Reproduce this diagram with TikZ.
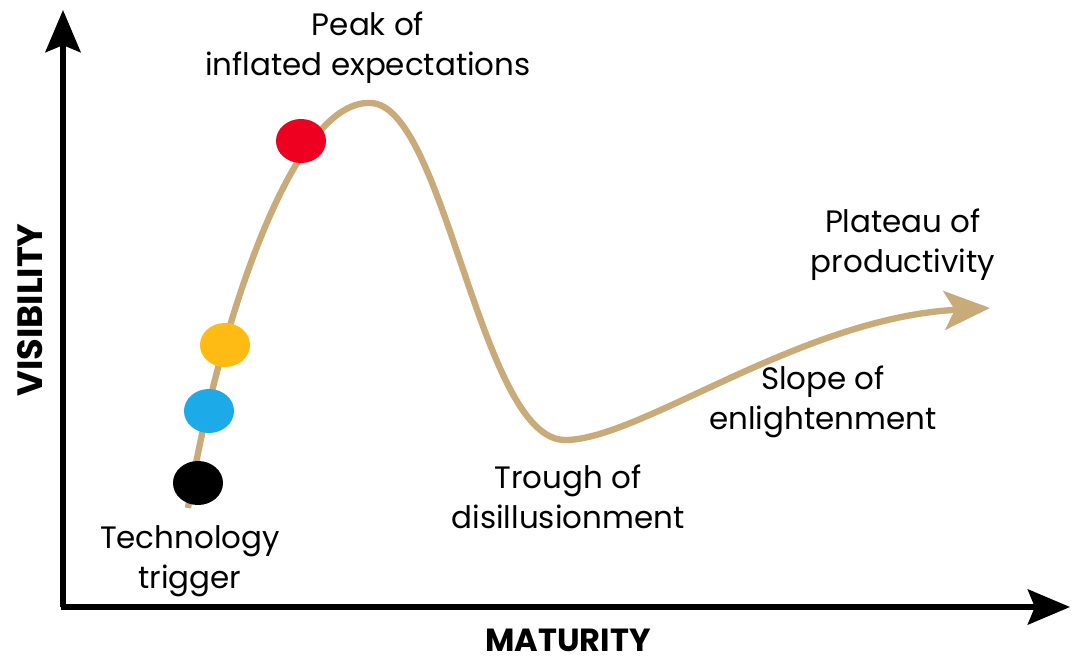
\documentclass[tikz,border=0pt]{standalone}
\usepackage{fontspec}
\setmainfont{Poppins}
\usepackage{tikz}
\usetikzlibrary{shapes.geometric, arrows.meta, positioning}

\definecolor{hypetan}{HTML}{C9AA79}
\definecolor{dotred}{HTML}{EE0020}
\definecolor{dotyellow}{HTML}{FDBB14}
\definecolor{dotblue}{HTML}{1DAAE8}

\begin{document}
\begin{tikzpicture}[
    x=0.01cm, y=-0.01cm,
    axis/.style={line width=1.5pt, -{Stealth[length=12pt, width=10pt, inset=2pt]}},
    hype/.style={hypetan, line width=1.8pt,
        -{Stealth[length=13pt, width=11pt, inset=3pt]}},
    dot/.style={ellipse, draw=none, minimum width=0.5cm, minimum height=0.44cm,
        inner sep=0pt},
    label/.style={font=\fontsize{8.8}{11.3}\selectfont, align=center},
    axislabel/.style={font=\fontsize{10}{12}\selectfont\bfseries},
]
\useasboundingbox (0,0) rectangle (1073,661);

% Achsen
\coordinate (origin) at (63,607);
\coordinate (ytop)   at (63,10);
\coordinate (xend)   at (1070,607);
\draw[axis] (origin) -- (ytop);
\draw[axis] ([xshift=-0.7pt]origin) -- (xend);

\node[axislabel, font=\fontsize{9.1}{11}\selectfont\bfseries] (maturity)
    at (568,640) {MATURITY};
\node[axislabel, rotate=90] (visibility) at (30,310) {VISIBILITY};

% Hype-Kurve
\coordinate (start)  at (188,508);
\coordinate (peak)   at (370,103);
\coordinate (trough) at (565,440);
\coordinate (tip)    at (990,308);
\draw[hype] (start)
    .. controls (215,340) and (290,100) .. (peak)
    .. controls (445,103) and (480,440) .. (trough)
    .. controls (640,440) and (800,318) .. (tip);

% Punkte
\node[dot, fill=black]     (trigger) at (198,483) {};
\node[dot, fill=dotblue]   (early)   at (209,411) {};
\node[dot, fill=dotyellow] (rising)  at (225,345) {};
\node[dot, fill=dotred]    (hyped)   at (301,141) {};

% Beschriftungen
\node[label] (peaktext)    at (368,48)  {Peak of\\inflated expectations};
\node[label] (triggertext) at (190,561) {Technology\\trigger};
\node[label] (troughtext)  at (568,497) {Trough of\\disillusionment};
\node[label] (slopetext)   at (823,402) {Slope of\\enlightenment};
\node[label] (plateautext) at (903,245) {Plateau of\\productivity};

\end{tikzpicture}
\end{document}
